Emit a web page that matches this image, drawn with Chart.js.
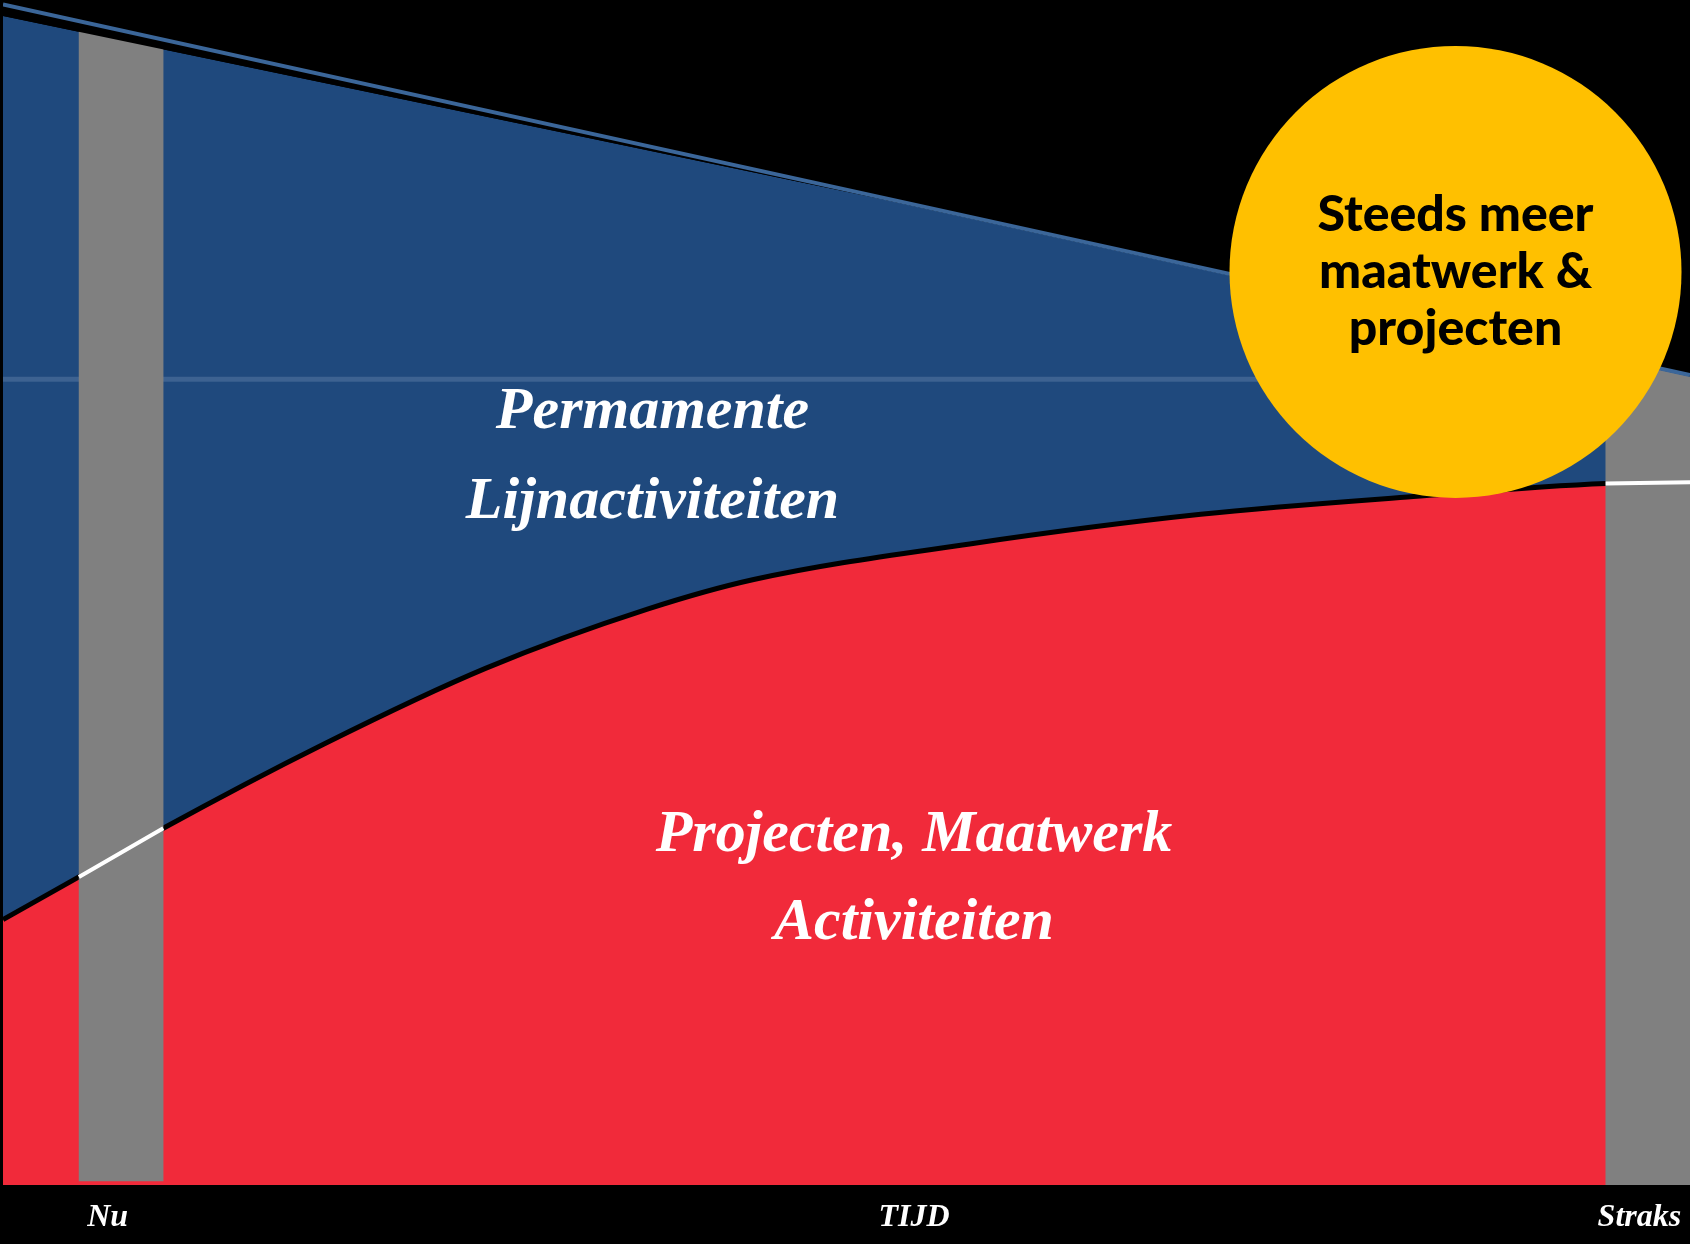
<!DOCTYPE html>
<html>
<head>
<meta charset="utf-8">
<script src="https://cdn.jsdelivr.net/npm/chart.js@4.4.0/dist/chart.umd.min.js"></script>
<style>
  html, body { margin: 0; padding: 0; background: #000; }
  canvas { display: block; }
</style>
</head>
<body>
<canvas id="tijdChart" width="1690" height="1244"></canvas>
<script>
// x-as loopt van 0 (links) tot 100 (rechts), y-as van 0 tot 100
const xTicks = [6.2, 54.0, 97.0];
const xTickLabels = ['Nu', 'TIJD', 'Straks'];

// grens tussen projecten (rood) en lijnactiviteiten (blauw)
const boundaryX = [0, 4.5, 9.5, 19.0, 28.6, 38.2, 44.5, 57.3, 71.0, 83.6, 95.0, 100];
const boundaryY = [22.4, 26.0, 30.1, 37.2, 43.6, 48.6, 51.1, 54.1, 56.6, 58.1, 59.2, 59.3];

// bovenkant van het blauwe vlak en de lichtblauwe lijn erboven
const topX = [0, 52.2, 100];
const blueTop = [98.65, 83.16, 68.23];
const blueLine = [99.62, 83.30, 68.35];

// grijze kolommen bij Nu en Straks
const barX = [7.0, 97.5];
const barLow = [0.35, 0];
const barHigh = [97.6, 72.0];

const gridLevels = [68.0];

// gele cirkel
const bubblePoint = [{ x: 86.1, y: 77.05, r: 226 }];
const bubbleText = ['Steeds meer', 'maatwerk &', 'projecten'];

const areaLabels = [
  { lines: ['Permamente', 'Lijnactiviteiten'], x: 38.5, y: [63.9, 56.3] },
  { lines: ['Projecten, Maatwerk', 'Activiteiten'], x: 54.0, y: [28.2, 20.8] }
];

const xy = (xs, ys) => xs.map((x, i) => ({ x: x, y: ys[i] }));

// witte stukjes lijn over de grijze kolommen
const whiteSeg = boundaryX.map((x, i) => {
  const inBar = barX.some(b => Math.abs(x - b) <= 2.6);
  return { x: x, y: inBar ? boundaryY[i] : null };
});

const textPlugin = {
  id: 'tekst',
  afterDatasetsDraw(chart) {
    const { ctx, scales: { x, y } } = chart;
    ctx.save();
    ctx.textAlign = 'center';
    ctx.fillStyle = '#fff';
    ctx.textBaseline = 'alphabetic';
    ctx.font = 'italic bold 60px "Liberation Serif"';
    areaLabels.forEach(l => {
      l.lines.forEach((t, i) => {
        ctx.fillText(t, x.getPixelForValue(l.x), y.getPixelForValue(l.y[i]));
      });
    });

    const el = chart.getDatasetMeta(0).data[0];
    ctx.fillStyle = '#000';
    ctx.textBaseline = 'middle';
    ctx.font = '900 50px Lato';
    bubbleText.forEach((t, i) => ctx.fillText(t, el.x, el.y + (i - 1) * 57));
    ctx.restore();
  }
};

const ctx = document.getElementById('tijdChart');
new Chart(ctx, {
  type: 'line',
  data: {
    datasets: [
      {
        type: 'bubble',
        data: bubblePoint,
        backgroundColor: '#FFC000',
        borderWidth: 0,
        clip: false,
        order: 0
      },
      {
        data: xy(topX, blueLine),
        borderColor: '#3B6699',
        borderWidth: 4,
        pointRadius: 0,
        tension: 0,
        fill: false,
        order: 1
      },
      {
        data: whiteSeg,
        borderColor: '#FFFFFF',
        borderWidth: 4,
        pointRadius: 0,
        tension: 0,
        spanGaps: false,
        fill: false,
        order: 2
      },
      {
        // zwart boven de bovenrand, valt over de kolommen
        data: xy(topX, blueTop),
        borderWidth: 0,
        pointRadius: 0,
        tension: 0,
        backgroundColor: '#000000',
        fill: 'end',
        order: 3
      },
      {
        type: 'bar',
        data: barX.map((x, i) => ({ x: x, y: [barLow[i], barHigh[i]] })),
        backgroundColor: '#808080',
        borderWidth: 0,
        barThickness: 84,
        grouped: false,
        order: 4
      },
      {
        data: [{ x: 0, y: gridLevels[0] }, { x: 100, y: gridLevels[0] }],
        borderColor: '#3D6291',
        borderWidth: 5,
        pointRadius: 0,
        fill: false,
        order: 5
      },
      {
        label: 'Projecten, Maatwerk Activiteiten',
        data: xy(boundaryX, boundaryY),
        borderColor: '#000000',
        borderWidth: 5,
        pointRadius: 0,
        cubicInterpolationMode: 'monotone',
        backgroundColor: '#F12A3A',
        fill: 'origin',
        order: 6
      },
      {
        label: 'Permamente Lijnactiviteiten',
        data: xy(topX, blueTop),
        borderWidth: 0,
        pointRadius: 0,
        tension: 0,
        backgroundColor: '#1F497D',
        fill: 'origin',
        order: 7
      }
    ]
  },
  options: {
    responsive: false,
    animation: false,
    devicePixelRatio: 1,
    events: [],
    layout: { autoPadding: false, padding: { left: 3, top: 0, right: 0, bottom: 0 } },
    plugins: {
      legend: { display: false },
      tooltip: { enabled: false }
    },
    scales: {
      x: {
        type: 'linear',
        min: 0,
        max: 100,
        offset: false,
        grid: { display: false, drawTicks: false },
        border: { display: false },
        afterBuildTicks: (s) => { s.ticks = xTicks.map(v => ({ value: v })); },
        afterFit: (s) => {
          s.height = 59;
          s.paddingLeft = 0;
          s.paddingRight = 0;
        },
        ticks: {
          color: '#FFFFFF',
          autoSkip: false,
          maxRotation: 0,
          padding: 14,
          font: { family: 'Liberation Serif', size: 32, style: 'italic', weight: 'bold' },
          callback: (v, i) => xTickLabels[i]
        }
      },
      y: { type: 'linear', min: 0, max: 100, display: false }
    }
  },
  plugins: [textPlugin]
});
</script>
</body>
</html>
